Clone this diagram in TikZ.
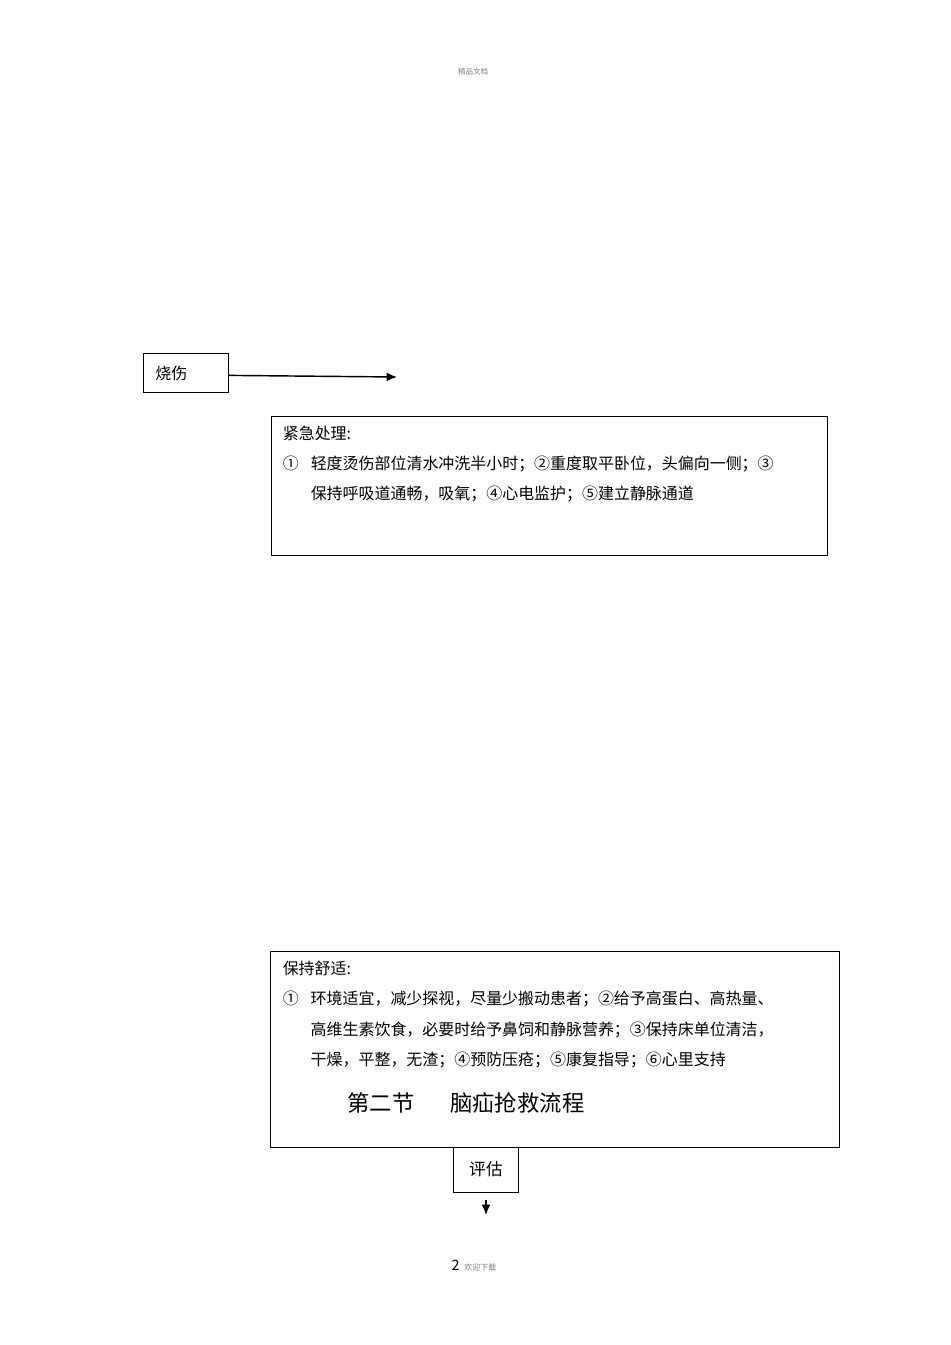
\documentclass[tikz,border=0pt]{standalone}
\usepackage{fontspec}
\setmainfont{Noto Sans CJK SC}
\usetikzlibrary{arrows.meta,positioning}

\begin{document}
\begin{tikzpicture}[x=0.6265pt, y=-0.6265pt, flow box/.style={draw, rectangle, line width=0.6pt, inner sep=0pt}, flow text/.style={inner sep=0pt, align=left, font=\fontsize{10}{19}\selectfont}, flow arrow/.style={-{Latex[length=6.5pt,width=5.5pt]}, line width=0.9pt}]
    \useasboundingbox (0,0) rectangle (950,1345);

    \node[font=\fontsize{4.7}{5}\selectfont, text=gray] (header) at (473,72) {精品文档};

    \node[flow box, minimum width=53.3pt, minimum height=24.4pt, text width=38.3pt, inner xsep=7.5pt, align=left, font=\fontsize{10}{12}\selectfont] (burn) at (186,373) {烧伤};
    \coordinate (burnend) at (397,377);

    \node[flow box, minimum width=348.3pt, minimum height=86.5pt] (urgent) at (549,486) {};
    \node[flow text, below right=5.6pt and 7.5pt of urgent.north west] (urgenttext) {紧急处理:\\
        \makebox[17.5pt][l]{①}轻度烫伤部位清水冲洗半小时；②重度取平卧位，头偏向一侧；③\\
        \hspace*{17.5pt}保持呼吸道通畅，吸氧；④心电监护；⑤建立静脉通道};

    \node[flow box, minimum width=355.9pt, minimum height=122.8pt] (care) at (555,1049) {};
    \node[flow text, below right=6.3pt and 7.5pt of care.north west] (caretext) {保持舒适:\\
        \makebox[17.5pt][l]{①}环境适宜，减少探视，尽量少搬动患者；②给予高蛋白、高热量、\\
        \hspace*{17.5pt}高维生素饮食，必要时给予鼻饲和静脉营养；③保持床单位清洁，\\
        \hspace*{17.5pt}干燥，平整，无渣；④预防压疮；⑤康复指导；⑥心里支持};
    \node[anchor=west, inner sep=0pt, font=\fontsize{14}{16}\selectfont] (title) at (347,1103) {第二节\hspace{22.5pt}脑疝抢救流程};

    \node[flow box, minimum width=41.3pt, minimum height=28.2pt, font=\fontsize{10.5}{12}\selectfont] (assess) at (486,1169.5) {评估};
    \coordinate (assessend) at (486,1215);

    \node[font=\fontsize{9}{10}\selectfont] (footer) at (474,1266) {2\hspace{3pt}{\fontsize{5}{6}\selectfont\color{gray}欢迎下载}};

    \draw[flow arrow] ([yshift=-1.5pt]burn.east) -- (burnend);
    \draw[flow arrow, shorten <=5pt] (assess) -- (assessend);

\end{tikzpicture}
\end{document}
